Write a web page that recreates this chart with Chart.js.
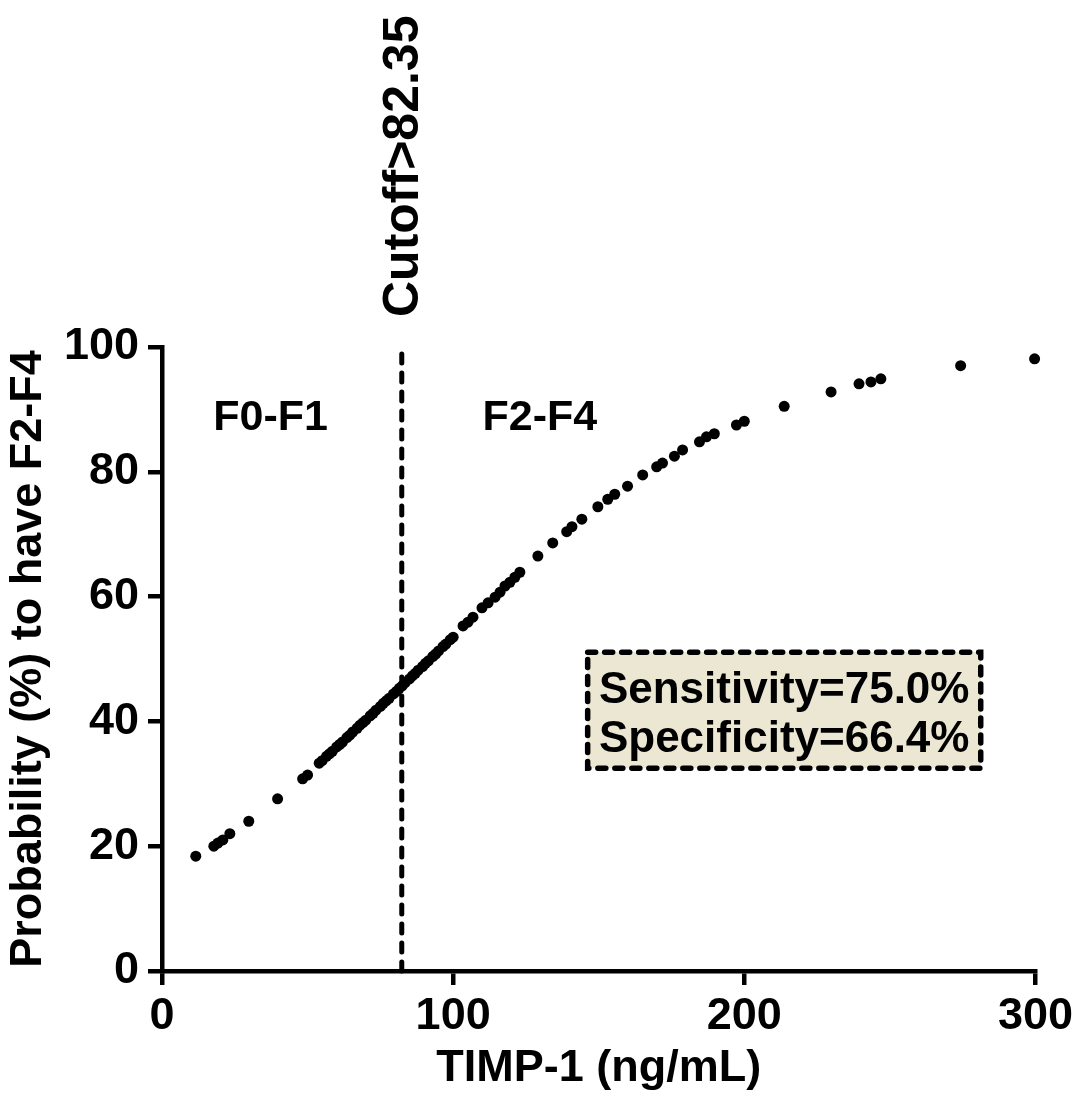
<!DOCTYPE html>
<html>
<head>
<meta charset="utf-8">
<script src="https://cdn.jsdelivr.net/npm/chart.js@4.4.1/dist/chart.umd.min.js"></script>
<style>
  html, body { margin: 0; padding: 0; background: #fff; }
  #wrap { width: 1078px; height: 1099px; position: relative; }
</style>
</head>
<body>
<div id="wrap"><canvas id="chart"></canvas></div>
<script>
// TIMP-1 (ng/mL) of each patient
const timp = [
  11.6, 17.8, 19.2, 20.9, 23.3, 29.8, 39.7, 48.3, 50.0,
  54, 55, 56.5, 57.5, 58.5, 60, 61, 62, 63.5, 64.5, 65.5, 67, 68, 69, 70,
  71.5, 72.5, 73.5, 75, 76, 77, 78, 79.5, 80.5, 81.5, 82.5, 83.5, 85, 86,
  87, 88, 89.5, 90.5, 91.5, 93, 94, 95, 96.5, 97.5, 99, 100,
  103.4, 105.1, 106.8, 109.9, 112.0, 114.4, 116.1, 117.8, 119.5, 121.2,
  122.9, 129.1, 134.2, 139.0, 140.8, 144.2, 149.7, 153.1, 155.5, 159.9,
  165.1, 169.9, 171.9, 176.0, 178.8, 184.6, 187.0, 189.7, 197.3, 200.0,
  213.7, 229.8, 239.4, 243.5, 246.9, 274.3, 299.7
];
// probability (%) to have F2-F4
const prob = [
  18.4, 20.0, 20.5, 21.0, 22.0, 24.0, 27.6, 30.8, 31.4,
  33.3, 33.7, 34.4, 34.8, 35.2, 35.9, 36.3, 36.7, 37.4, 37.8, 38.3, 38.9, 39.4, 39.8, 40.2,
  40.9, 41.3, 41.8, 42.4, 42.9, 43.3, 43.7, 44.4, 44.8, 45.3, 45.7, 46.2, 46.8, 47.3,
  47.7, 48.2, 48.8, 49.3, 49.7, 50.4, 50.8, 51.3, 52.0, 52.4, 53.1, 53.5,
  55.3, 55.9, 56.7, 58.2, 59.0, 59.9, 60.7, 61.7, 62.3, 63.1,
  63.9, 66.5, 68.6, 70.4, 71.2, 72.4, 74.4, 75.6, 76.4, 77.7,
  79.5, 80.8, 81.4, 82.5, 83.5, 84.8, 85.6, 86.1, 87.5, 88.1,
  90.5, 92.8, 94.1, 94.4, 94.9, 97.0, 98.1
];
const cutoff = 82.35;
const xTicks = [0, 100, 200, 300];
const yTicks = [0, 20, 40, 60, 80, 100];
const groupLabels = ['F0-F1', 'F2-F4'];
const statLines = ['Sensitivity=75.0%', 'Specificity=66.4%'];

const FONT = '"Liberation Sans", Arial, sans-serif';
Chart.defaults.font.family = FONT;
Chart.defaults.font.weight = 'bold';
Chart.defaults.color = '#000';

const points = timp.map((x, i) => ({ x: x, y: prob[i] }));

// labels, cutoff text and the stats box
const annotations = {
  id: 'annotations',
  afterDatasetsDraw(chart) {
    const ctx = chart.ctx;
    const xs = chart.scales.x, ys = chart.scales.y;
    ctx.save();
    ctx.fillStyle = '#000';

    ctx.font = 'bold 43px ' + FONT;
    ctx.textAlign = 'center';
    ctx.textBaseline = 'middle';
    ctx.fillText(groupLabels[0], xs.getPixelForValue(37.3), ys.getPixelForValue(88.6));
    ctx.fillText(groupLabels[1], xs.getPixelForValue(129.8), ys.getPixelForValue(88.6));

    // rotated cutoff label above the dotted line
    ctx.save();
    ctx.translate(xs.getPixelForValue(cutoff) + 2, ys.getPixelForValue(100) - 30);
    ctx.rotate(-Math.PI / 2);
    ctx.font = 'bold 50px ' + FONT;
    ctx.textAlign = 'left';
    ctx.textBaseline = 'middle';
    ctx.fillText('Cutoff>' + cutoff, 0, 0);
    ctx.restore();

    // stats box
    const bx0 = xs.getPixelForValue(146.2), bx1 = xs.getPixelForValue(281.2);
    const by0 = ys.getPixelForValue(51.1), by1 = ys.getPixelForValue(32.5);
    ctx.fillStyle = '#ECE7D3';
    ctx.fillRect(bx0, by0, bx1 - bx0, by1 - by0);
    ctx.strokeStyle = '#000';
    ctx.lineWidth = 5.5;
    ctx.lineCap = 'round';
    ctx.setLineDash([8, 9]);
    ctx.strokeRect(bx0, by0, bx1 - bx0, by1 - by0);
    ctx.setLineDash([]);
    ctx.fillStyle = '#000';
    ctx.font = 'bold 44px ' + FONT;
    ctx.textAlign = 'center';
    ctx.textBaseline = 'alphabetic';
    const cx = (bx0 + bx1) / 2;
    ctx.fillText(statLines[0], cx, by0 + 51);
    ctx.fillText(statLines[1], cx, by0 + 100);
    ctx.restore();
  }
};

new Chart(document.getElementById('chart'), {
  type: 'scatter',
  data: {
    datasets: [
      {
        label: 'cutoff',
        data: [{ x: cutoff, y: 0 }, { x: cutoff, y: 100 }],
        showLine: true,
        borderColor: '#000',
        borderWidth: 5,
        borderDash: [9, 10],
        borderCapStyle: 'round',
        pointRadius: 0,
        clip: false
      },
      {
        label: 'probability',
        data: points,
        backgroundColor: '#000',
        borderColor: '#000',
        pointRadius: 5.5,
        borderWidth: 0,
        clip: false
      }
    ]
  },
  options: {
    responsive: true,
    maintainAspectRatio: false,
    animation: false,
    layout: { padding: { left: 0, right: 41, top: 347, bottom: 0 } },
    plugins: { legend: { display: false }, tooltip: { enabled: false } },
    scales: {
      x: {
        type: 'linear',
        min: 0, max: 300,
        afterBuildTicks: s => { s.ticks = xTicks.map(v => ({ value: v })); },
        afterFit: s => { s.height = 128; },
        border: { display: true, color: '#000', width: 4.5 },
        grid: { display: true, drawOnChartArea: false, drawTicks: true, tickLength: 14, color: '#000', lineWidth: 4.5 },
        ticks: { font: { size: 45, weight: 'bold' }, padding: 5, maxRotation: 0, color: '#000' },
        title: { display: true, text: 'TIMP-1 (ng/mL)', font: { size: 45, weight: 'bold' }, padding: { top: 0, bottom: 3 }, color: '#000' }
      },
      y: {
        type: 'linear',
        min: 0, max: 100,
        afterBuildTicks: s => { s.ticks = yTicks.map(v => ({ value: v })); },
        afterFit: s => { s.width = 162; },
        border: { display: true, color: '#000', width: 4.5 },
        grid: { display: true, drawOnChartArea: false, drawTicks: true, tickLength: 14, color: '#000', lineWidth: 4.5 },
        ticks: { font: { size: 45, weight: 'bold' }, padding: 9, color: '#000' },
        title: { display: true, text: 'Probability (%) to have F2-F4', font: { size: 45, weight: 'bold' }, padding: { top: 2, bottom: 0 }, color: '#000' }
      }
    }
  },
  plugins: [annotations]
});
</script>
</body>
</html>
